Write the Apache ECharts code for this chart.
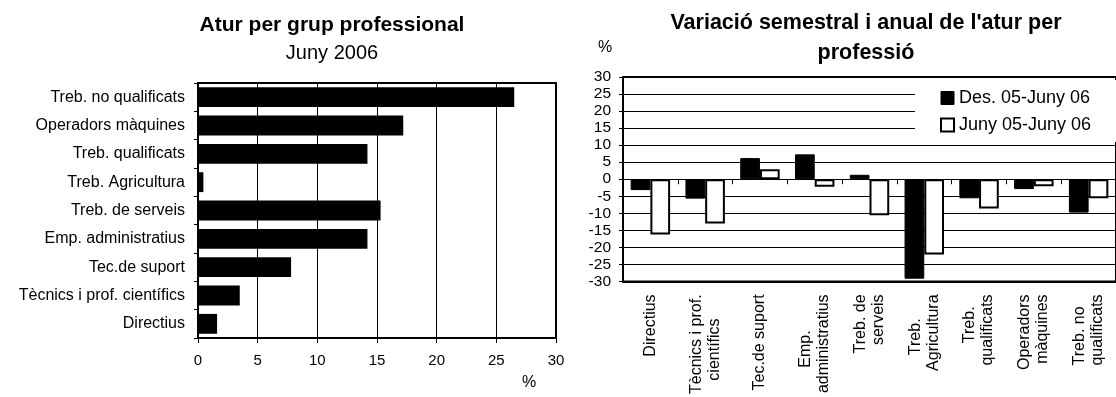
<!DOCTYPE html>
<html>
<head>
<meta charset="utf-8">
<script src="https://cdn.jsdelivr.net/npm/echarts/dist/echarts.min.js"></script>
<style>
html,body{margin:0;padding:0;background:#fff;}
#chart{width:1116px;height:397px;}
</style>
</head>
<body>
<div id="chart"></div>
<script>
// Left chart: share of unemployment by professional group, June 2006 (%)
const leftCategories = ['Directius','Tècnics i prof. científics','Tec.de suport','Emp. administratius','Treb. de serveis','Treb. Agricultura','Treb. qualificats','Operadors màquines','Treb. no qualificats'];
const leftValues = [1.6, 3.5, 7.8, 14.2, 15.3, 0.45, 14.2, 17.2, 26.5];
const leftTicks = [0, 30, 5];

// Right chart: semestral and annual variation (%)
const rightCategories = ['Directius','Tècnics i prof.\ncientífics','Tec.de suport','Emp.\nadministratius','Treb. de\nserveis','Treb.\nAgricultura','Treb.\nqualificats','Operadors\nmàquines','Treb. no\nqualificats'];
const seriesNames = ['Des. 05-Juny 06','Juny 05-Juny 06'];
const semestral = [-3.2, -5.7, 6.2, 7.3, 1.3, -29.2, -5.6, -2.9, -9.8];
const anual = [-16.2, -13.0, 2.9, -2.2, -10.6, -22.1, -8.6, -2.1, -5.6];
const rightTicks = [-30, 30, 5];

const FONT = "'Liberation Sans', Arial, sans-serif";
const black = '#000';
const LABEL_SIZE = 16;

// Centre the lines of each rotated two-line label on each other: labels are
// end-aligned at the axis, so the shorter line gets a blank (non-trimmed) tail.
const BLANK = '\u2800';
const measureCtx = document.createElement('canvas').getContext('2d');
measureCtx.font = LABEL_SIZE + 'px ' + FONT;
const padW = measureCtx.measureText(BLANK).width || 8;
const rotText = rightCategories.map(cat => {
  const lines = cat.split('\n');
  const widths = lines.map(s => measureCtx.measureText(s).width);
  const W = Math.max.apply(null, widths);
  return lines.map((s, j) => {
    const n = Math.round(((W - widths[j]) / 2) / padW);
    return s + BLANK.repeat(Math.max(0, n));
  }).join('\n');
});

const chart = echarts.init(document.getElementById('chart'));

chart.setOption({
  animation: false,
  backgroundColor: '#fff',
  textStyle: { fontFamily: FONT, color: black },
  title: [
    { text: 'Atur per grup professional', left: 332, top: 11, textAlign: 'center', padding: 0,
      textStyle: { fontFamily: FONT, fontSize: 21, fontWeight: 'bold', color: black, lineHeight: 28 } },
    { text: 'Juny 2006', left: 332, top: 39, textAlign: 'center', padding: 0,
      textStyle: { fontFamily: FONT, fontSize: 20, fontWeight: 'normal', color: black, lineHeight: 28 } },
    { text: '%', left: 529, top: 373, textAlign: 'center', padding: 0,
      textStyle: { fontFamily: FONT, fontSize: 16, fontWeight: 'normal', color: black, lineHeight: 20 } },
    { text: "Variació semestral i anual de l'atur per\nprofessió", left: 866, top: 8, textAlign: 'center', padding: 0,
      textStyle: { fontFamily: FONT, fontSize: 21.5, fontWeight: 'bold', color: black, lineHeight: 30 } },
    { text: '%', left: 605, top: 38, textAlign: 'center', padding: 0,
      textStyle: { fontFamily: FONT, fontSize: 16, fontWeight: 'normal', color: black, lineHeight: 20 } }
  ],
  legend: {
    orient: 'vertical', left: 915, top: 80,
    backgroundColor: '#fff',
    padding: [9, 30, 8, 25],
    itemWidth: 13, itemHeight: 13, itemGap: 9,
    icon: 'rect',
    textStyle: { fontFamily: FONT, fontSize: 18, color: black },
    data: [
      { name: seriesNames[0], itemStyle: { color: black, borderColor: black, borderWidth: 1 } },
      { name: seriesNames[1], itemStyle: { color: '#fff', borderColor: black, borderWidth: 2 } }
    ]
  },
  grid: [
    { left: 198, top: 83, width: 358, height: 255, show: true, borderColor: black, borderWidth: 2, backgroundColor: 'transparent' },
    { left: 623, top: 77, width: 499, height: 205, show: true, borderColor: black, borderWidth: 2, backgroundColor: 'transparent' }
  ],
  xAxis: [
    { gridIndex: 0, type: 'value', min: leftTicks[0], max: leftTicks[1], interval: leftTicks[2],
      axisLine: { show: true, lineStyle: { color: black, width: 2 } },
      axisTick: { show: true, length: 5, lineStyle: { color: black } },
      axisLabel: { fontFamily: FONT, fontSize: 15, color: black, margin: 15 },
      splitLine: { show: true, lineStyle: { color: black, width: 1 } } },
    { gridIndex: 1, type: 'category', data: rightCategories, position: 'bottom',
      axisLine: { show: true, onZero: true, lineStyle: { color: black, width: 1 } },
      axisTick: { show: true, length: 5, interval: 0, lineStyle: { color: black } },
      axisLabel: { show: false },
      splitLine: { show: false } },
    { gridIndex: 1, type: 'category', data: rightCategories, position: 'bottom',
      axisLine: { show: true, onZero: false, lineStyle: { color: black, width: 2 } },
      axisTick: { show: false },
      splitLine: { show: false },
      axisLabel: {
        interval: 0, rotate: 90, margin: 13, color: black, fontFamily: FONT, fontSize: LABEL_SIZE,
        lineHeight: 18,
        formatter: (v, i) => rotText[i]
      } }
  ],
  yAxis: [
    { gridIndex: 0, type: 'category', data: leftCategories,
      axisLine: { show: true, lineStyle: { color: black, width: 2 } },
      axisTick: { show: true, length: 4, interval: 0, lineStyle: { color: black } },
      axisLabel: { interval: 0, fontFamily: FONT, fontSize: 16, color: black, margin: 13 },
      splitLine: { show: false } },
    { gridIndex: 1, type: 'value', min: rightTicks[0], max: rightTicks[1], interval: rightTicks[2],
      axisLine: { show: true, lineStyle: { color: black, width: 2 } },
      axisTick: { show: true, length: 4, lineStyle: { color: black } },
      axisLabel: { fontFamily: FONT, fontSize: 15.5, color: black, margin: 12 },
      splitLine: { show: true, lineStyle: { color: black, width: 1 } } }
  ],
  series: [
    { type: 'bar', xAxisIndex: 0, yAxisIndex: 0, data: leftValues, barCategoryGap: '30%',
      itemStyle: { color: black } },
    { type: 'bar', name: seriesNames[0], xAxisIndex: 1, yAxisIndex: 1, data: semestral,
      barGap: '0%', barCategoryGap: '28%',
      itemStyle: { color: black, borderColor: black, borderWidth: 1 } },
    { type: 'bar', name: seriesNames[1], xAxisIndex: 1, yAxisIndex: 1, data: anual,
      barGap: '0%', barCategoryGap: '28%',
      itemStyle: { color: '#fff', borderColor: black, borderWidth: 2 } }
  ]
});
</script>
</body>
</html>
